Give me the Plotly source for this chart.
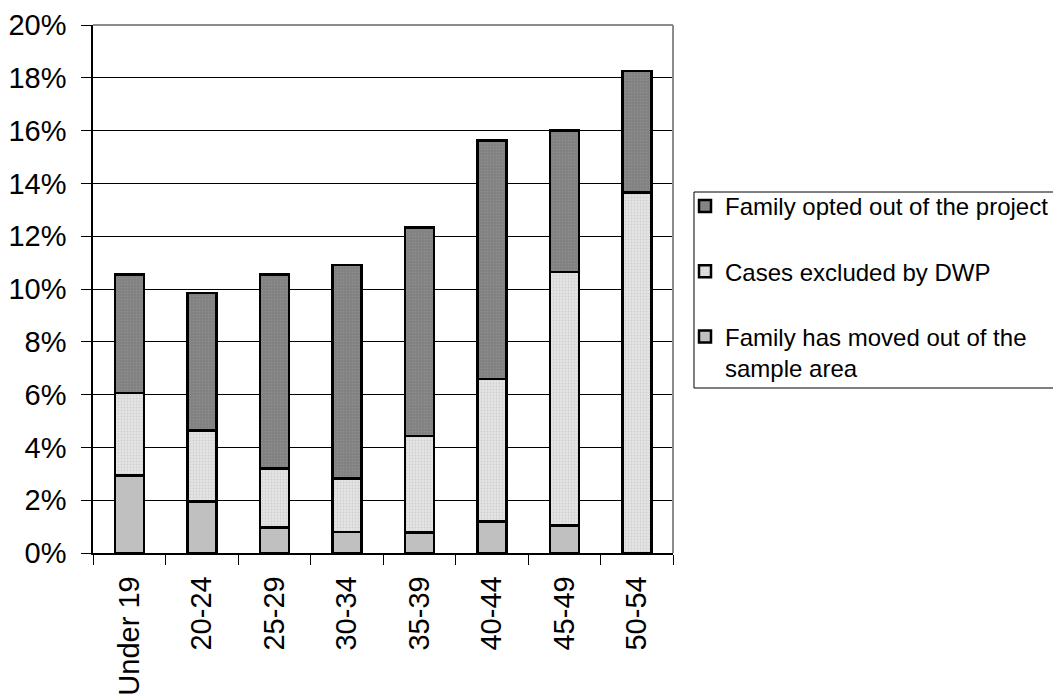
import plotly.graph_objects as go

categories = ["Under 19", "20-24", "25-29", "30-34", "35-39", "40-44", "45-49", "50-54"]
moved = [2.93, 1.95, 0.97, 0.80, 0.77, 1.20, 1.05, 0.0]
excluded = [3.13, 2.69, 2.24, 2.03, 3.66, 5.40, 9.59, 13.65]
opted = [4.49, 5.21, 7.34, 8.07, 7.90, 9.03, 5.36, 4.60]

names = ["Family has moved out of the<br>sample area", "Cases excluded by DWP", "Family opted out of the project"]

FONT = "Liberation Sans, Arial, sans-serif"

fig = go.Figure()
fig.add_trace(go.Bar(
    x=categories, y=moved, name=names[0], legendgroup="a", legendrank=3,
    marker=dict(color="#C0C0C0", line=dict(color="black", width=2.5)),
    width=0.4,
))
fig.add_trace(go.Bar(
    x=categories, y=excluded, name=names[1], legendgroup="b", legendrank=2,
    marker=dict(color="#E2E2E2", line=dict(color="black", width=2.5),
                pattern=dict(shape=".", bgcolor="#E4E4E4", fgcolor="#BBBBBB", size=3, solidity=0.3)),
    width=0.4,
))
fig.add_trace(go.Bar(
    x=categories, y=opted, name=names[2], legendgroup="c", legendrank=1,
    marker=dict(color="#808080", line=dict(color="black", width=2.5),
                pattern=dict(shape=".", bgcolor="#808080", fgcolor="#9A9A9A", size=3, solidity=0.3)),
    width=0.4,
))

fig.update_layout(
    width=1053, height=699,
    barmode="stack",
    plot_bgcolor="white", paper_bgcolor="white",
    margin=dict(l=93, r=380, t=25, b=146, autoexpand=False),
    font=dict(family=FONT, color="black"),
    showlegend=True,
    legend=dict(
        x=1.0207, y=0.699, xanchor="left", yanchor="top",
        traceorder="grouped", tracegroupgap=31, valign="top",
        font=dict(size=24, family=FONT, color="black"),
        borderwidth=0, bgcolor="rgba(0,0,0,0)",
        itemwidth=30,
    ),
    xaxis=dict(
        type="category", tickson="boundaries", ticks="outside", ticklen=10,
        tickcolor="black", tickwidth=1,
        showline=True, linecolor="black", linewidth=1.5,
        tickangle=-90, tickfont=dict(size=29, family=FONT),
        ticklabelstandoff=10,
        showgrid=False, automargin=False,
    ),
    yaxis=dict(
        range=[0, 20], dtick=2, ticksuffix="%", ticks="outside", ticklen=10,
        tickcolor="black", tickwidth=1,
        showline=True, linecolor="black", linewidth=1.5,
        showgrid=True, gridcolor="black", gridwidth=1,
        tickfont=dict(size=29, family=FONT), automargin=False,
        ticklabelstandoff=9,
        zeroline=False,
    ),
    shapes=[
        dict(type="line", xref="paper", yref="paper", x0=0, x1=1, y0=1, y1=1,
             line=dict(color="#8C8C8C", width=2), layer="above"),
        dict(type="line", xref="paper", yref="paper", x0=1, x1=1, y0=0, y1=1,
             line=dict(color="#8C8C8C", width=2), layer="above"),
        dict(type="rect", xref="paper", yref="paper", x0=1.0362, x1=1.75, y0=0.3125, y1=0.6837,
             line=dict(color="black", width=1), fillcolor="rgba(0,0,0,0)", layer="below"),
    ],
)

fig.write_html("out.html", config={"displayModeBar": False},
               post_script="document.body.style.margin='0';")
